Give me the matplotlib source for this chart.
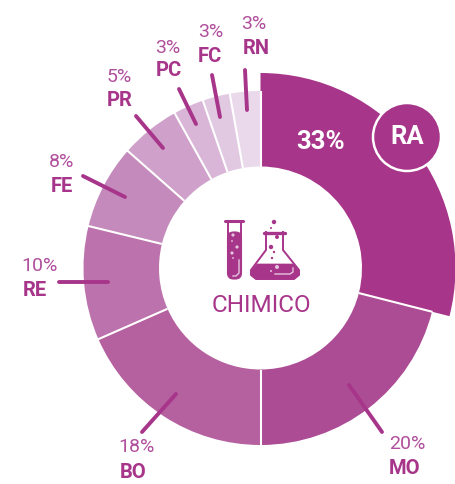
import numpy as np
import matplotlib
matplotlib.use("Agg")
import matplotlib.pyplot as plt
from matplotlib.patches import Wedge, Circle, Polygon, FancyBboxPatch

codes = ["RA", "MO", "BO", "RE", "FE", "PR", "PC", "FC", "RN"]
labels = ["33%", "20%", "18%", "10%", "8%", "5%", "3%", "3%", "3%"]
# angular extent of each slice as drawn (degrees, clockwise from 12 o'clock)
spans = [104.3, 75.7, 66.3, 37.4, 27.7, 19.6, 10, 9, 10]
outer = [195, 177, 177, 177, 177, 177, 177, 177, 177]
colors = ["#a7358a", "#ac4c95", "#b5609f", "#bc72ac", "#c48abb", "#cea0ca", "#d9b6d7", "#e2c9e2", "#ead9eb"]
PURPLE = "#a7358a"
H = 484
CX, CY, INNER = 260.5, H - 268, 101.5

plt.rcParams["font.family"] = ["Roboto", "DejaVu Sans"]
fig = plt.figure(figsize=(4.55, 4.84), dpi=100)
ax = fig.add_axes([0, 0, 1, 1])
ax.set_xlim(0, 455); ax.set_ylim(0, H); ax.axis("off")

a = 90.0
for s, r, c in zip(spans, outer, colors):
    ax.add_patch(Wedge((CX, CY), r, a - s, a, width=r - INNER, fc=c, ec="none", zorder=2))
    a -= s
a = 90.0
for s in spans:
    t = np.radians(a)
    ax.plot([CX + INNER * np.cos(t), CX + 177.5 * np.cos(t)], [CY + INNER * np.sin(t), CY + 177.5 * np.sin(t)],
            color="white", lw=1.5, zorder=2.5, solid_capstyle="butt")
    a -= s

def Y(y):
    return H - y

leaders = {"MO": ((349, 385), (382, 432)), "BO": ((176, 394), (142, 432)),
           "RE": ((108, 282), (59, 282)), "FE": ((125, 197), (83, 176)),
           "PR": ((163, 148), (136, 116)), "PC": ((196, 124), (179, 89)),
           "FC": ((220, 117), (212, 75)), "RN": ((247, 110), (245, 70))}
for p, q in leaders.values():
    ax.plot([p[0], q[0]], [Y(p[1]), Y(q[1])], color=PURPLE, lw=2.8, solid_capstyle="round", zorder=3)

pos = {"MO": (407, 444, 404.5, 468), "BO": (137, 447, 133, 472), "RE": (39.5, 266, 34.5, 291),
       "FE": (61.5, 162, 61.5, 187), "PR": (119, 77, 120, 100.7), "PC": (168, 48, 169, 71),
       "FC": (211, 32, 210, 57), "RN": (254, 24, 256, 48.7)}
for code, lab in zip(codes, labels):
    if code == "RA":
        continue
    x1, y1, x2, y2 = pos[code]
    ax.text(x1, Y(y1), lab, color="#b04f9c", ha="center", va="center", fontsize=14)
    ax.text(x2, Y(y2), code, color=PURPLE, ha="center", va="center", fontsize=14.5, fontweight="bold")

ax.text(321, Y(142), labels[0], color="white", ha="center", va="center", fontsize=18.5, fontweight="bold", zorder=5)
ax.add_patch(Circle((407, Y(137)), 34, fc=PURPLE, ec="white", lw=1.8, zorder=5))
ax.text(407, Y(137), codes[0], color="white", ha="center", va="center", fontsize=18.5, fontweight="bold", zorder=6)

ax.text(261, Y(306), "CHIMICO", color=PURPLE, ha="center", va="center", fontsize=17.5, zorder=5)

LIGHT = "#e6c6df"
# test tube
ax.plot([225, 243], [Y(221), Y(221)], color=PURPLE, lw=2.2, solid_capstyle="round", zorder=5)
ax.plot([228, 228], [Y(221), Y(270)], color=PURPLE, lw=1.4, zorder=5)
ax.plot([241, 241], [Y(221), Y(270)], color=PURPLE, lw=1.4, zorder=5)
ax.add_patch(FancyBboxPatch((227.5, Y(279)), 14, 47, boxstyle="round,pad=0,rounding_size=6",
                            fc=PURPLE, ec=PURPLE, lw=0.8, zorder=5))
for x, y, r in [(233, 235, 1.6), (232, 241, 0.9), (237, 247, 1.6), (232, 253, 1.6), (233, 258, 0.9)]:
    ax.add_patch(Circle((x, Y(y)), r, fc=LIGHT, ec="none", zorder=6))
ax.plot([239, 239, 236, 233], [Y(260), Y(273), Y(276), Y(276)], color=LIGHT, lw=1, zorder=6)

# flask
ax.plot([264, 285], [Y(232.5), Y(232.5)], color=PURPLE, lw=2.4, solid_capstyle="round", zorder=5)
outline = [(266, 232), (266, 250), (251, 270), (251, 275), (256, 279), (294, 279), (299, 275), (299, 270), (283, 250), (283, 232)]
ax.plot([p[0] for p in outline], [Y(p[1]) for p in outline], color=PURPLE, lw=1.4, zorder=5)
liquid = [(257, 264), (293, 264), (299, 271), (299, 275), (294, 279), (256, 279), (251, 275), (251, 271)]
ax.add_patch(Polygon([(p[0], Y(p[1])) for p in liquid], closed=True, fc=PURPLE, ec=PURPLE, lw=0.5, zorder=5))
for x, y, r in [(274, 222, 2.2), (271, 228, 1), (277, 237, 2), (271, 247, 2.2), (274, 252, 1.2), (272, 258, 1.2)]:
    ax.add_patch(Circle((x, Y(y)), r, fc=PURPLE, ec="none", zorder=6))
for x, y, r in [(277, 267, 2), (271, 271, 1)]:
    ax.add_patch(Circle((x, Y(y)), r, fc=LIGHT, ec="none", zorder=6))
ax.plot([275, 290, 293, 293], [Y(274), Y(274), Y(272), Y(268)], color=LIGHT, lw=1, zorder=6)

fig.savefig("out.png", dpi=100)
